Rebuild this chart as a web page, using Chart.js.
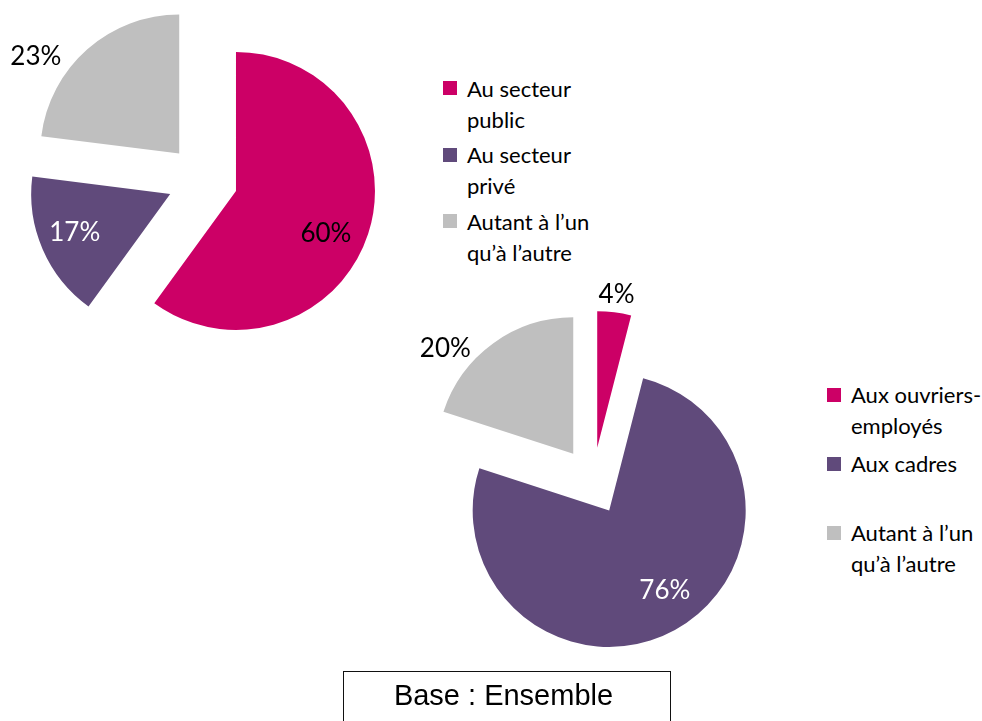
<!DOCTYPE html>
<html>
<head>
<meta charset="utf-8">
<script src="https://cdn.jsdelivr.net/npm/chart.js@4.4.1/dist/chart.umd.min.js"></script>
<style>
  html, body { margin: 0; padding: 0; background: #fff; }
  body { width: 982px; height: 721px; position: relative; overflow: hidden; font-family: Lato, sans-serif; }
  canvas { position: absolute; }
  #pie1 { left: 0; top: 0; }
  #pie2 { left: 393px; top: 281px; }
  .legend { position: absolute; list-style: none; margin: 0; padding: 0; font-size: 22px; line-height: 31px; color: #000; }
  .legend li { position: relative; padding-left: 24px; min-height: 62px; white-space: nowrap; }
  .legend .box { position: absolute; left: 0; top: 8.5px; width: 14px; height: 14px; }
  #legend1 { left: 443px; top: 72.5px; }
  #legend1 li { margin-bottom: 4.5px; }
  #legend2 { left: 827px; top: 379px; }
  #legend2 li { margin-bottom: 7px; }
  #base {
    position: absolute; left: 343px; top: 671px; width: 328px; height: 80px;
    box-sizing: border-box; border: 1.5px solid #111;
    font-family: 'Liberation Sans', Arial, sans-serif; font-size: 29px; line-height: 29px;
    text-align: center; padding-top: 8.5px; padding-right: 7px; color: #000;
  }
</style>
</head>
<body>
<canvas id="pie1" width="405" height="360"></canvas>
<canvas id="pie2" width="400" height="400"></canvas>
<ul class="legend" id="legend1"></ul>
<ul class="legend" id="legend2"></ul>
<div id="base">Base : Ensemble</div>

<script>
// data
const sectorLabels = [['Au secteur', 'public'], ['Au secteur', 'privé'], ['Autant à l’un', 'qu’à l’autre']];
const sectorValues = [60, 17, 23];

const jobLabels = [['Aux ouvriers-', 'employés'], ['Aux cadres'], ['Autant à l’un', 'qu’à l’autre']];
const jobValues = [4, 76, 20];

const sliceColors = ['#CC0066', '#604A7B', '#BFBFBF'];

// pulls every slice out along its bisector (Excel style explosion)
const explodePlugin = {
    id: 'explode',
    afterDatasetUpdate(chart, args, opts) {
        const dist = opts.distance || 0;
        args.meta.data.forEach((arc) => {
            const mid = (arc.startAngle + arc.endAngle) / 2;
            arc.x += Math.cos(mid) * dist;
            arc.y += Math.sin(mid) * dist;
        });
    },
};

// percentage labels, inside or outside the slice
const sliceLabelsPlugin = {
    id: 'sliceLabels',
    afterDatasetsDraw(chart, args, opts) {
        const ctx = chart.ctx;
        const meta = chart.getDatasetMeta(0);
        const values = chart.data.datasets[0].data;
        ctx.save();
        ctx.font = opts.font;
        ctx.textAlign = 'center';
        ctx.textBaseline = 'middle';
        meta.data.forEach((arc, i) => {
            const place = opts.placement[i];
            const angle = (arc.startAngle + arc.endAngle) / 2 + place.shift * Math.PI / 180;
            const r = arc.outerRadius * place.r;
            ctx.fillStyle = place.color;
            ctx.fillText(values[i] + '%', arc.x + Math.cos(angle) * r, arc.y + Math.sin(angle) * r);
        });
        ctx.restore();
    },
};

const makePie = (id, labels, values, radius, distance, placement) => {
    const ctx = document.getElementById(id).getContext('2d');
    return new Chart(ctx, {
        type: 'pie',
        data: {
            labels: labels,
            datasets: [
                {
                    data: values,
                    backgroundColor: sliceColors,
                    borderWidth: 0,
                },
            ],
        },
        options: {
            responsive: false,
            animation: false,
            radius: radius,
            layout: { padding: 0 },
            events: [],
            plugins: {
                legend: { display: false },
                tooltip: { enabled: false },
                explode: { distance: distance },
                sliceLabels: {
                    font: '26px Lato, sans-serif',
                    placement: placement,
                },
            },
        },
        plugins: [explodePlugin, sliceLabelsPlugin],
    });
};

makePie('pie1', sectorLabels, sectorValues, 139, 35.2, [
    { r: 0.715, shift: 7.2, color: '#000' },
    { r: 0.74, shift: 1.5, color: '#fff' },
    { r: 1.247, shift: -14.4, color: '#000' },
]);

makePie('pie2', jobLabels, jobValues, 136.5, 33.6, [
    { r: 1.13, shift: 0, color: '#000' },
    { r: 0.714, shift: -6, color: '#fff' },
    { r: 1.213, shift: -14.6, color: '#000' },
]);

// html legends built from the same arrays
const buildLegend = (id, labels) => {
    const ul = document.getElementById(id);
    labels.forEach((lines, i) => {
        const li = document.createElement('li');
        const box = document.createElement('span');
        box.className = 'box';
        box.style.background = sliceColors[i];
        li.appendChild(box);
        lines.forEach((line, j) => {
            if (j > 0) li.appendChild(document.createElement('br'));
            li.appendChild(document.createTextNode(line));
        });
        ul.appendChild(li);
    });
};

buildLegend('legend1', sectorLabels);
buildLegend('legend2', jobLabels);
</script>
</body>
</html>
